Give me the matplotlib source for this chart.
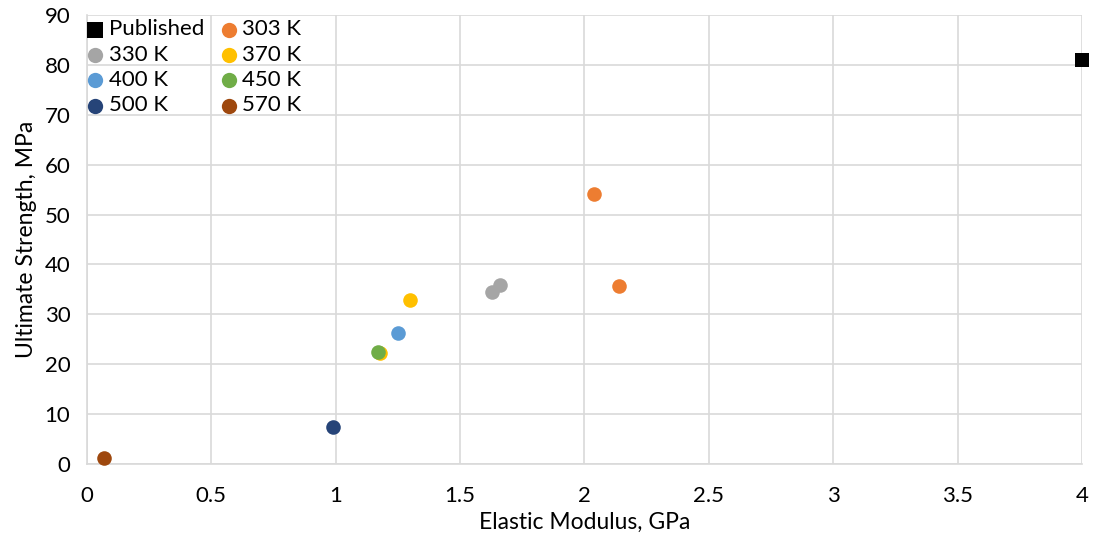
import matplotlib.pyplot as plt
from matplotlib.ticker import MultipleLocator

plt.rcParams['font.family'] = ['Lato', 'DejaVu Sans']

# data
series = ["Published", "303 K", "330 K", "370 K", "400 K", "450 K", "500 K", "570 K"]
modulus = [
    [4.0],
    [2.04, 2.14],
    [1.63, 1.66],
    [1.30, 1.18],
    [1.25],
    [1.17],
    [0.99],
    [0.07],
]
strength = [
    [81.0],
    [54.2, 35.7],
    [34.5, 35.9],
    [32.9, 22.2],
    [26.3],
    [22.5],
    [7.5],
    [1.3],
]
colors = ["#000000", "#ED7D31", "#A5A5A5", "#FFC000", "#5B9BD5", "#70AD47", "#264478", "#9E480E"]
markers = ["s", "o", "o", "o", "o", "o", "o", "o"]

fig = plt.figure(figsize=(10.94, 5.40), dpi=100)
ax = fig.add_axes([0.0795, 0.1407, 0.9095, 0.8315])

handles = []
for name, xs, ys, c, m in zip(series, modulus, strength, colors, markers):
    h = ax.scatter(xs, ys, s=110, color=c, marker=m, label=name, zorder=3,
                   linewidths=0, clip_on=False)
    handles.append(h)

ax.set_xlim(0, 4)
ax.set_ylim(0, 90)
ax.yaxis.set_major_locator(MultipleLocator(10))
ax.set_xticks([0, 0.5, 1, 1.5, 2, 2.5, 3, 3.5, 4])
ax.set_xticklabels(["0", "0.5", "1", "1.5", "2", "2.5", "3", "3.5", "4"])
ax.grid(True, color="#d9d9d9", linewidth=1.2, zorder=0)
ax.set_axisbelow(True)
for side in ["top", "right"]:
    ax.spines[side].set_visible(False)
for side in ["left", "bottom"]:
    ax.spines[side].set_color("#d9d9d9")
    ax.spines[side].set_linewidth(1.2)
ax.tick_params(length=0, labelsize=16, colors="black")
ax.tick_params(axis="x", pad=16)
ax.tick_params(axis="y", pad=12)

ax.set_xlabel("Elastic Modulus, GPa", fontsize=16.5, labelpad=4)
ax.set_ylabel("Ultimate Strength, MPa", fontsize=16.5, labelpad=5)

# legend fills column-major, so reorder to get row-major like the reference
order = [0, 2, 4, 6, 1, 3, 5, 7]
ax.legend([handles[i] for i in order], [series[i] for i in order], ncol=2,
          loc="upper left", bbox_to_anchor=(-0.016, 1.02), frameon=False,
          fontsize=16, handletextpad=0.1, columnspacing=0.6, labelspacing=0.24,
          borderaxespad=0.2, handlelength=1.0, markerscale=1.05)

fig.savefig("out.png", dpi=100)
